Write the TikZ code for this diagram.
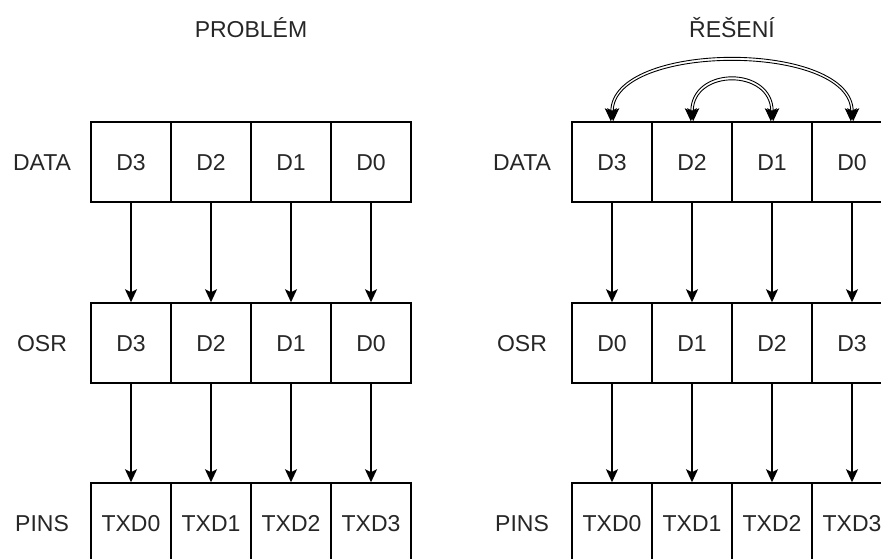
\documentclass[tikz,border=0pt]{standalone}
\usepackage{fontspec}
\setmainfont{Liberation Sans}
\usepackage{tikz}
\usetikzlibrary{arrows.meta}

\begin{document}
\begin{tikzpicture}[x=1pt, y=-1pt,
    cell/.style={rectangle, draw, line width=1.5pt, minimum width=80pt, minimum height=80pt, inner sep=0pt, text height=16.5pt, text depth=0pt, text=black!85, font=\fontsize{23}{27}\selectfont},
    lbl/.style={text=black!85, text height=16.5pt, text depth=0pt, font=\fontsize{23}{27}\selectfont},
    arr/.style={-{Stealth[length=13pt,width=12pt,inset=3pt]}, line width=1.5pt},
    swaparr/.style={{Stealth[length=13pt,width=12pt,inset=3pt]}-{Stealth[length=13pt,width=12pt,inset=3pt]}, line width=0.9pt}]
    \useasboundingbox (0,0) rectangle (881,559);
    \clip (0,0) rectangle (881,559);

    \node[lbl, anchor=base] (tprob) at (251,38) {PROBLÉM};
    \node[lbl, anchor=base] (treseni) at (732,38) {ŘEŠENÍ};

    \node[lbl] (ldata) at (42,162) {DATA};
    \node[lbl] (losr) at (42,343) {OSR};
    \node[lbl] (lpins) at (42,523) {PINS};
    \node[lbl] (rdata) at (522,162) {DATA};
    \node[lbl] (rosr) at (522,343) {OSR};
    \node[lbl] (rpins) at (522,523) {PINS};

    % left: problem
    \foreach \t [count=\i] in {D3,D2,D1,D0}
        \node[cell] (ld\i) at (51+80*\i,162) {\t};
    \foreach \t [count=\i] in {D3,D2,D1,D0}
        \node[cell] (lo\i) at (51+80*\i,343) {\t};
    \foreach \t [count=\i] in {TXD0,TXD1,TXD2,TXD3}
        \node[cell] (lp\i) at (51+80*\i,523) {\t};

    % right: solution
    \foreach \t [count=\i] in {D3,D2,D1,D0}
        \node[cell] (rd\i) at (532+80*\i,162) {\t};
    \foreach \t [count=\i] in {D0,D1,D2,D3}
        \node[cell] (ro\i) at (532+80*\i,343) {\t};
    \foreach \t [count=\i] in {TXD0,TXD1,TXD2,TXD3}
        \node[cell] (rp\i) at (532+80*\i,523) {\t};

    \foreach \i in {1,...,4} {
        \draw[arr] (ld\i) -- (lo\i);
        \draw[arr] (lo\i) -- (lp\i);
        \draw[arr] (rd\i) -- (ro\i);
        \draw[arr] (ro\i) -- (rp\i);
    }

    % swapped bits, two edges each way
    \draw[swaparr] ([xshift=-1.2pt]rd1.north) .. controls +(0,-82) and +(0,-82) .. ([xshift=1.2pt]rd4.north);
    \draw[swaparr] ([xshift=1.2pt]rd1.north) .. controls +(0,-78) and +(0,-78) .. ([xshift=-1.2pt]rd4.north);
    \draw[swaparr] ([xshift=-1.2pt]rd2.north) .. controls +(0,-56) and +(0,-56) .. ([xshift=1.2pt]rd3.north);
    \draw[swaparr] ([xshift=1.2pt]rd2.north) .. controls +(0,-52) and +(0,-52) .. ([xshift=-1.2pt]rd3.north);
\end{tikzpicture}
\end{document}
